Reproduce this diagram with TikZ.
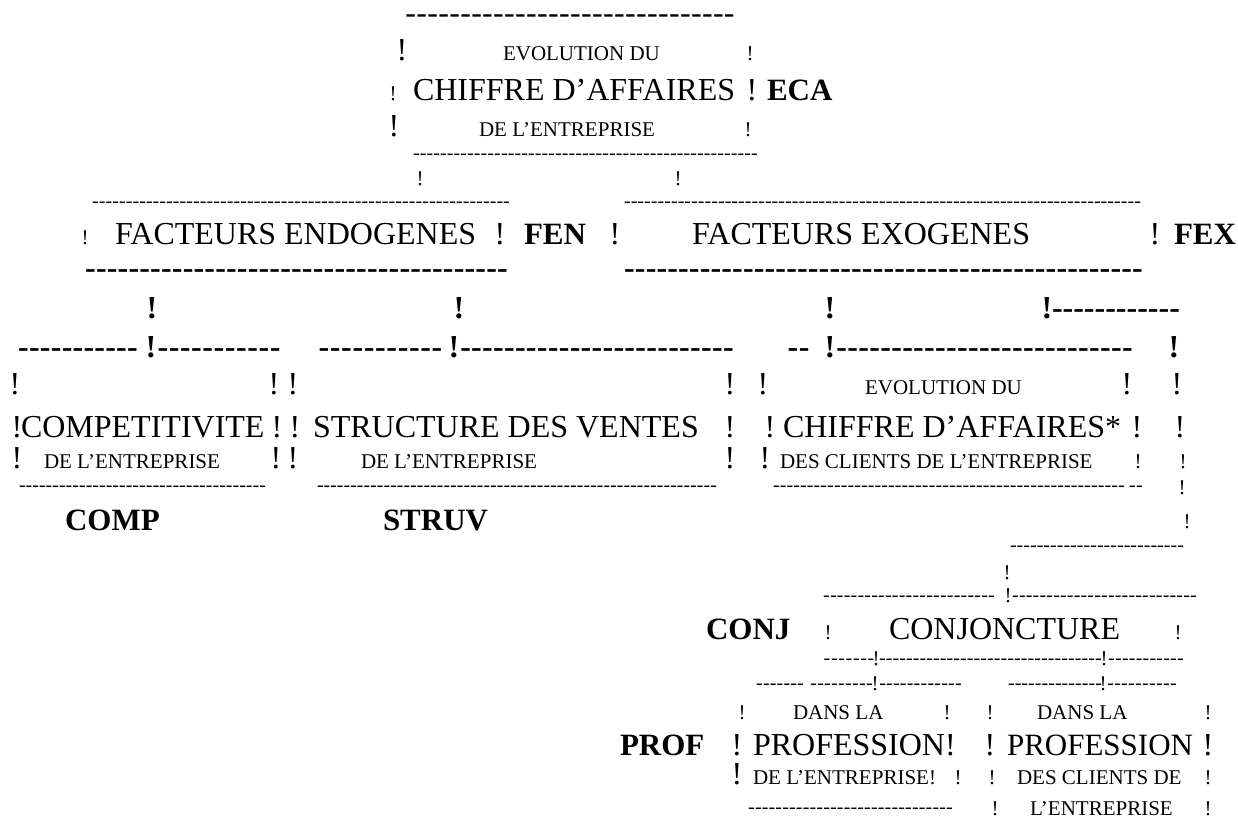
\documentclass[tikz,border=0pt]{standalone}
\usepackage{fontspec}
\setmainfont{Liberation Serif}
\newcommand\DL[1]{\hbox to #1pt{\xleaders\hbox{-}\hfill}}
\tikzset{
 every node/.style={inner sep=0pt, outer sep=0pt},
 big/.style={font=\fontsize{32}{32}\selectfont, anchor=base west},
 sml/.style={font=\fontsize{21}{21}\selectfont, anchor=base west},
 lbl/.style={font=\fontsize{31}{31}\selectfont\bfseries, anchor=base west},
 bx/.style={font=\fontsize{32}{32}\selectfont, anchor=base},
 sx/.style={font=\fontsize{21}{21}\selectfont, anchor=base},
 bbx/.style={font=\fontsize{32}{32}\selectfont\bfseries, anchor=base},
 dbig/.style={font=\fontsize{32}{32}\selectfont, anchor=base west, yshift=-7pt},
 dsml/.style={font=\fontsize{20}{20}\selectfont, anchor=base west, yshift=-4.4pt},
 dbold/.style={font=\fontsize{32}{32}\selectfont\bfseries, anchor=base west, yshift=-7pt},
}
\begin{document}
\begin{tikzpicture}[x=1pt,y=-1pt]
\useasboundingbox[fill=white] (0,0) rectangle (1238,825);
% ---- ECA box
\node[dbig] (ecaTop) at (405,16) {\DL{330}};
\node[bx] (e1) at (402,60) {!};
\node[sml] (ecaA) at (503,60) {EVOLUTION DU};
\node[sx] (e2) at (750,60) {!};
\node[sx] (e3) at (393,100) {!};
\node[big] (ecaB) at (413,100) {CHIFFRE D’AFFAIRES};
\node[bx] (e4) at (752,100) {!};
\node[lbl] (eca) at (767,100) {ECA};
\node[bx] (e5) at (394,136) {!};
\node[sml] (ecaC) at (479,136) {DE L’ENTREPRISE};
\node[sx] (e6) at (748,136) {!};
\node[dsml] (ecaBot) at (413,155) {\DL{345}};
\node[sx] (e7) at (420,185) {!};
\node[sx] (e8) at (678,185) {!};
% ---- FEN / FEX
\node[dsml] (fenTop) at (92,203) {\DL{418}};
\node[dsml] (fexTop) at (624,203) {\DL{517}};
\node[sx] (f1) at (85,244) {!};
\node[big] (fenT) at (115,244) {FACTEURS ENDOGENES};
\node[bx] (f2) at (500,244) {!};
\node[lbl] (fen) at (524,244) {FEN};
\node[bx] (f3) at (615,244) {!};
\node[big] (fexT) at (692,244) {FACTEURS EXOGENES};
\node[bx] (f4) at (1155,244) {!};
\node[lbl] (fex) at (1174,244) {FEX};
\node[dbold] (fenBot) at (85,271) {\DL{423}};
\node[dbold] (fexBot) at (624,271) {\DL{519}};
\node[bbx] (g1) at (152,318) {!};
\node[bbx] (g2) at (459,318) {!};
\node[bbx] (g3) at (830,318) {!};
\node[bbx] (g4) at (1047,318) {!};
\node[dbold] (gd4) at (1052,311) {\DL{128}};
% bold branch row
\node[dbold] (h1) at (18,350) {\DL{120}};
\node[bbx] (h2) at (151,357) {!};
\node[dbold] (h3) at (157,350) {\DL{124}};
\node[dbold] (h4) at (318,350) {\DL{125}};
\node[bbx] (h5) at (454,357) {!};
\node[dbold] (h6) at (460,350) {\DL{274}};
\node[dbold] (h7) at (787,350) {\DL{23}};
\node[bbx] (h8) at (830,357) {!};
\node[dbold] (h9) at (836,350) {\DL{297}};
\node[bbx] (h10) at (1174,357) {!};
% ---- box row 1
\node[bx] (r1) at (15,394) {!};
\node[bx] (r2) at (274,394) {!};
\node[bx] (r3) at (293,394) {!};
\node[bx] (r4) at (730,394) {!};
\node[bx] (r5) at (763,394) {!};
\node[sml] (ecc1) at (865,394) {EVOLUTION DU};
\node[bx] (r6) at (1127,394) {!};
\node[bx] (r7) at (1177,394) {!};
% ---- box row 2
\node[bx] (s1) at (17,437) {!};
\node[big] (comp1) at (21,437) {COMPETITIVITE};
\node[bx] (s2) at (277,437) {!};
\node[bx] (s3) at (295,437) {!};
\node[big] (struv1) at (313,437) {STRUCTURE DES VENTES};
\node[bx] (s4) at (730,437) {!};
\node[bx] (s5) at (770,437) {!};
\node[big] (ecc2) at (783,437) {CHIFFRE D’AFFAIRES*};
\node[bx] (s6) at (1137,437) {!};
\node[bx] (s7) at (1180,437) {!};
% ---- box row 3
\node[bx] (t1) at (17,468) {!};
\node[sml] (comp2) at (44,468) {DE L’ENTREPRISE};
\node[bx] (t2) at (276,468) {!};
\node[bx] (t3) at (293,468) {!};
\node[sml] (struv2) at (361,468) {DE L’ENTREPRISE};
\node[bx] (t4) at (730,468) {!};
\node[bx] (t5) at (765,468) {!};
\node[sml] (ecc3) at (780,468) {DES CLIENTS DE L’ENTREPRISE};
\node[sx] (t6) at (1138,468) {!};
\node[sx] (t7) at (1183,468) {!};
% ---- bottoms
\node[dsml] (compBot) at (19,487) {\DL{247}};
\node[dsml] (struvBot) at (317,487) {\DL{400}};
\node[dsml] (eccBot) at (773,487) {\DL{352}};
\node[dsml] (eccBot2) at (1129,487) {\DL{14}};
\node[sx] (u1) at (1182,494) {!};
\node[lbl] (comp) at (65,530) {COMP};
\node[lbl] (struv) at (383,530) {STRUV};
\node[sx] (u2) at (1187,528) {!};
% ---- CONJ
\node[dsml] (c0) at (1010,547) {\DL{174}};
\node[sx] (c1) at (1007,579) {!};
\node[dsml] (c2) at (823,597) {\DL{172}};
\node[sx] (c3) at (1008,602) {!};
\node[dsml] (c4) at (1012,597) {\DL{185}};
\node[lbl] (conj) at (706,639) {CONJ};
\node[sx] (c5) at (828,639) {!};
\node[big] (conjT) at (889,639) {CONJONCTURE};
\node[sx] (c6) at (1178,639) {!};
\node[dsml] (c7) at (823,660) {\DL{52}};
\node[sx] (c8) at (876,665) {!};
\node[dsml] (c9) at (879,660) {\DL{223}};
\node[sx] (c10) at (1104,665) {!};
\node[dsml] (c11) at (1108,660) {\DL{76}};
\node[dsml] (c12) at (756,685) {\DL{48}};
\node[dsml] (c13) at (810,685) {\DL{63}};
\node[sx] (c14) at (875,690) {!};
\node[dsml] (c15) at (879,685) {\DL{83}};
\node[dsml] (c16) at (1008,685) {\DL{94}};
\node[sx] (c17) at (1103,690) {!};
\node[dsml] (c18) at (1107,685) {\DL{70}};
% ---- PROF
\node[sx] (p1) at (742,719) {!};
\node[sml] (pa1) at (793,719) {DANS LA};
\node[sx] (p2) at (947,719) {!};
\node[sx] (p3) at (990,719) {!};
\node[sml] (pb1) at (1037,719) {DANS LA};
\node[sx] (p4) at (1208,719) {!};
\node[lbl] (prof) at (620,755) {PROF};
\node[bx] (p5) at (737,755) {!};
\node[big] (pa2) at (753,755) {PROFESSION!};
\node[bx] (p6) at (990,755) {!};
\node[big,font=\fontsize{31}{31}\selectfont] (pb2) at (1007,755) {PROFESSION};
\node[bx] (p7) at (1208,755) {!};
\node[bx] (p8) at (737,784) {!};
\node[sml] (pa3) at (753,784) {DE L’ENTREPRISE!};
\node[sx] (p9) at (958,784) {!};
\node[sx] (p10) at (992,784) {!};
\node[sml] (pb3) at (1017,784) {DES CLIENTS DE};
\node[sx] (p11) at (1208,784) {!};
\node[dsml] (paBot) at (748,809) {\DL{205}};
\node[sx] (p12) at (995,815) {!};
\node[sml] (pb4) at (1030,815) {L’ENTREPRISE};
\node[sx] (p13) at (1208,815) {!};
\end{tikzpicture}
\end{document}
